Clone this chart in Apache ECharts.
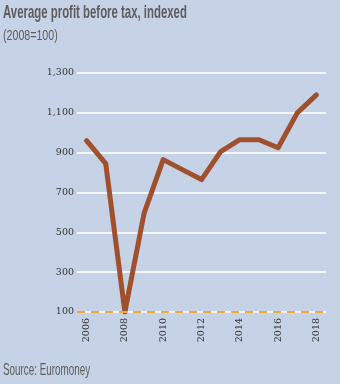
<!DOCTYPE html>
<html><head><meta charset="utf-8">
<script src="https://cdn.jsdelivr.net/npm/echarts@6/dist/echarts.min.js"></script>
<style>html,body{margin:0;padding:0;background:#c6d3e6;}#c{width:340px;height:384px;}</style>
</head><body><div id="c"></div>
<script>
const years = [2006,2007,2008,2009,2010,2011,2012,2013,2014,2015,2016,2017,2018];
const profit = [960,845,100,595,865,815,765,905,965,965,925,1100,1190];
const baseline = 100;
const yTicks = [100,300,500,700,900,1100,1300];
const xTickLabels = [2006,2008,2010,2012,2014,2016,2018];

const titleFont = 'Liberation Sans, Arial, sans-serif';
const chart = echarts.init(document.getElementById('c'));
chart.setOption({
  backgroundColor:'#c6d3e6',
  animation:false,
  graphic:[
    {type:'text',left:3,top:3,scaleX:0.6,style:{text:'Average profit before tax, indexed',
      font:'bold 19px '+titleFont,fill:'#5d5d5d'}},
    {type:'text',left:3,top:29,scaleX:0.76,style:{text:'(2008=100)',
      font:'14px '+titleFont,fill:'#5d5d5d'}},
    {type:'text',left:3,top:362,scaleX:0.58,style:{text:'Source: Euromoney',
      font:'17px '+titleFont,fill:'#5d5d5d'}}
  ],
  grid:{left:77,right:14,top:73,bottom:72},
  xAxis:{type:'value',min:2005.5,max:2018.5,
    axisLine:{show:false},axisTick:{show:false},splitLine:{show:false},
    axisLabel:{show:true,customValues:xTickLabels,rotate:90,margin:6,
      fontFamily:'DejaVu Serif, serif',fontSize:9.5,color:'#333',formatter:v=>String(v)}},
  yAxis:{type:'value',min:yTicks[0],max:yTicks[yTicks.length-1],interval:200,
    axisLine:{show:false},axisTick:{show:false},
    splitLine:{show:true,lineStyle:{color:'#f4f6fa',width:2}},
    axisLabel:{margin:3,fontFamily:'DejaVu Serif, serif',fontSize:9.5,color:'#333',
      formatter:v=>v.toLocaleString('en-US')}},
  series:[
    {type:'line',data:years.map((y,i)=>[y,profit[i]]),symbol:'none',
     lineStyle:{color:'#a0502c',width:5,cap:'round',join:'round'},z:3,
     markLine:{silent:true,symbol:'none',label:{show:false},
       lineStyle:{color:'#f5a833',width:2,type:[8,6]},
       data:[{yAxis:baseline}]}}
  ]
});
</script></body></html>
